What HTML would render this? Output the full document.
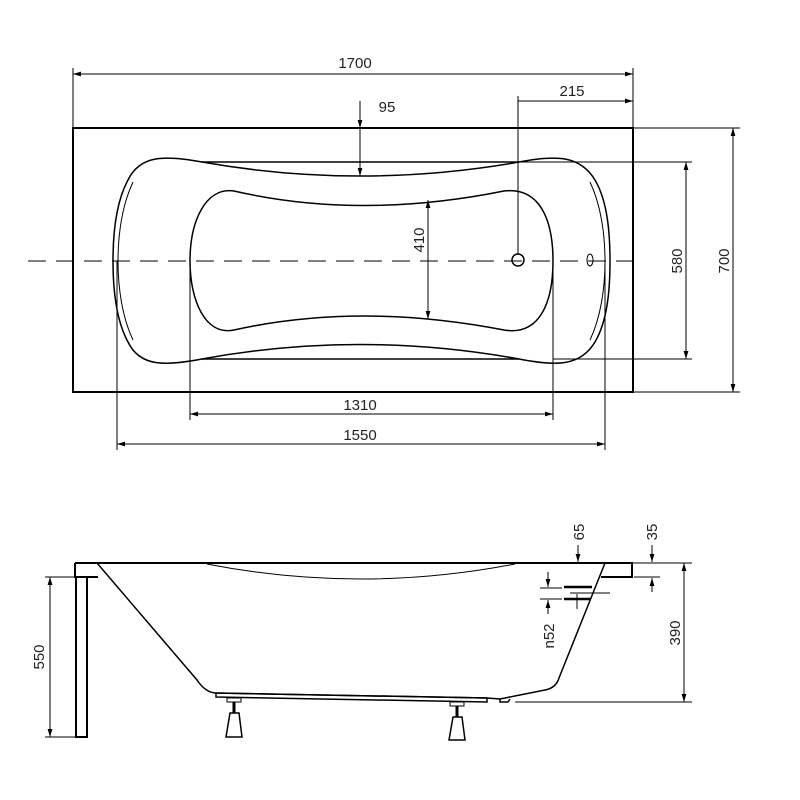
<!DOCTYPE html>
<html><head><meta charset="utf-8"><style>body{margin:0;background:#fff}svg{display:block}text{font-family:"Liberation Sans",sans-serif;font-size:15px;fill:#222}</style></head>
<body>
<svg width="800" height="800" viewBox="0 0 800 800" xmlns="http://www.w3.org/2000/svg">
<defs>
<marker id="a" viewBox="0 0 10 10" refX="10" refY="5" markerWidth="8" markerHeight="8" orient="auto-start-reverse"><path d="M0,2 L10,5 L0,8 Z" fill="#000"/></marker>
</defs>
<g fill="none" stroke="#000" stroke-width="1">
<!-- top view -->
<rect x="73" y="128" width="560" height="264" stroke-width="2"/>
<line x1="28" y1="261" x2="642" y2="261" stroke-dasharray="18,10"/>
<path d="M202,162 L519,162 C555,155 580,155 595,180 C608,202 610,235 610,261 C610,287 608,320 595,342 C580,367 555,366 519,359 L202,359 C165,366 140,367 128,342 C116,320 113,287 113,261 C113,235 116,202 128,180 C140,155 165,155 202,162 Z" stroke-width="1.5"/>
<path d="M133,182 C122,205 118,235 118,261 C118,287 122,317 133,340" />
<path d="M590,182 C601,205 605,235 605,261 C605,287 601,317 590,340" />
<path d="M202,162 Q360,190 519,162" stroke-width="1.5"/>
<path d="M202,359 Q360,330 519,359" stroke-width="1.5"/>
<path d="M234,191 Q360,220 504,191 C540,187 553,220 553,261 C553,302 540,336 504,330 Q360,302 234,330 C205,336 190,300 190,261 C190,222 205,187 234,191 Z" stroke-width="1.5"/>
<circle cx="518" cy="260" r="6" stroke-width="1.5"/>
<ellipse cx="590" cy="260" rx="3" ry="6"/>
<!-- dims top -->
<line x1="73" y1="68" x2="73" y2="128"/><line x1="633" y1="68" x2="633" y2="128"/>
<line x1="73" y1="74" x2="633" y2="74" marker-start="url(#a)" marker-end="url(#a)"/>
<line x1="518" y1="96" x2="518" y2="254"/>
<line x1="518" y1="101" x2="633" y2="101" marker-end="url(#a)"/>
<line x1="360" y1="101" x2="360" y2="128" marker-end="url(#a)"/>
<line x1="360" y1="128" x2="360" y2="176" marker-end="url(#a)"/>
<line x1="428" y1="200" x2="428" y2="319" marker-start="url(#a)" marker-end="url(#a)"/>
<line x1="519" y1="162" x2="692" y2="162"/><line x1="553" y1="359" x2="692" y2="359"/>
<line x1="686" y1="162" x2="686" y2="359" marker-start="url(#a)" marker-end="url(#a)"/>
<line x1="633" y1="128" x2="740" y2="128"/><line x1="633" y1="392" x2="740" y2="392"/>
<line x1="733" y1="128" x2="733" y2="392" marker-start="url(#a)" marker-end="url(#a)"/>
<line x1="190" y1="261" x2="190" y2="420"/><line x1="553" y1="261" x2="553" y2="420"/>
<line x1="190" y1="414" x2="553" y2="414" marker-start="url(#a)" marker-end="url(#a)"/>
<line x1="117" y1="261" x2="117" y2="450"/><line x1="605" y1="261" x2="605" y2="450"/>
<line x1="117" y1="444" x2="605" y2="444" marker-start="url(#a)" marker-end="url(#a)"/>
<!-- side view -->
<path d="M75,563 L632,563 L632,577 L601,577" stroke-width="2"/>
<path d="M75,563 L75,577 L98,577" stroke-width="2"/>
<rect x="76" y="577" width="11" height="160" stroke-width="2"/>
<path d="M97,563 L197,680 Q205,692 215,693 L487,698 L500,699 L545,690 Q556,688 559,678 L605,563" stroke-width="1.5"/>
<path d="M207,564 Q360,594 515,564" stroke-width="1"/>
<path d="M216,693 L487,698 L487,702 L216,697 Z" stroke-width="1.5"/>
<path d="M500,699 L500,702 L508,702 L510,699" stroke-width="1.5"/>
<rect x="227" y="698" width="14" height="4"/><line x1="234" y1="702" x2="234" y2="713" stroke-width="3"/>
<path d="M230,713 L239,713 L242,737 L226,737 Z" stroke-width="1.5"/>
<rect x="450" y="702" width="14" height="4"/><line x1="457" y1="706" x2="457" y2="717" stroke-width="3"/>
<path d="M453,717 L462,717 L465,740 L449,740 Z" stroke-width="1.5"/>
<line x1="45" y1="577" x2="75" y2="577"/><line x1="45" y1="737" x2="75" y2="737"/>
<line x1="50" y1="577" x2="50" y2="737" marker-start="url(#a)" marker-end="url(#a)"/>
<line x1="632" y1="563" x2="692" y2="563"/><line x1="515" y1="702" x2="692" y2="702"/>
<line x1="684" y1="563" x2="684" y2="702" marker-start="url(#a)" marker-end="url(#a)"/>
<line x1="578" y1="545" x2="578" y2="562" marker-end="url(#a)"/>
<line x1="652" y1="545" x2="652" y2="562" marker-end="url(#a)"/>
<line x1="652" y1="592" x2="652" y2="578" marker-end="url(#a)"/>
<line x1="634" y1="577" x2="660" y2="577"/>
<line x1="548" y1="572" x2="548" y2="587" marker-end="url(#a)"/>
<line x1="548" y1="614" x2="548" y2="600" marker-end="url(#a)"/>
<line x1="540" y1="588" x2="562" y2="588"/><line x1="540" y1="599" x2="562" y2="599"/>
<line x1="564" y1="587" x2="592" y2="587" stroke-width="2.5"/>
<line x1="564" y1="599" x2="591" y2="599" stroke-width="2.5"/>
<line x1="570" y1="593" x2="610" y2="593"/>
<line x1="577" y1="594" x2="577" y2="609"/>
</g>
<text x="355" y="68" text-anchor="middle">1700</text>
<text x="572" y="96" text-anchor="middle">215</text>
<text x="387" y="112" text-anchor="middle">95</text>
<text x="360" y="410" text-anchor="middle">1310</text>
<text x="360" y="440" text-anchor="middle">1550</text>
<text transform="translate(424,240) rotate(-90)" text-anchor="middle">410</text>
<text transform="translate(682,261) rotate(-90)" text-anchor="middle">580</text>
<text transform="translate(729,261) rotate(-90)" text-anchor="middle">700</text>
<text transform="translate(44,657) rotate(-90)" text-anchor="middle">550</text>
<text transform="translate(680,633) rotate(-90)" text-anchor="middle">390</text>
<text transform="translate(584,532) rotate(-90)" text-anchor="middle">65</text>
<text transform="translate(657,532) rotate(-90)" text-anchor="middle">35</text>
<text transform="translate(554,636) rotate(-90)" text-anchor="middle">n52</text>
</svg>
</body></html>
